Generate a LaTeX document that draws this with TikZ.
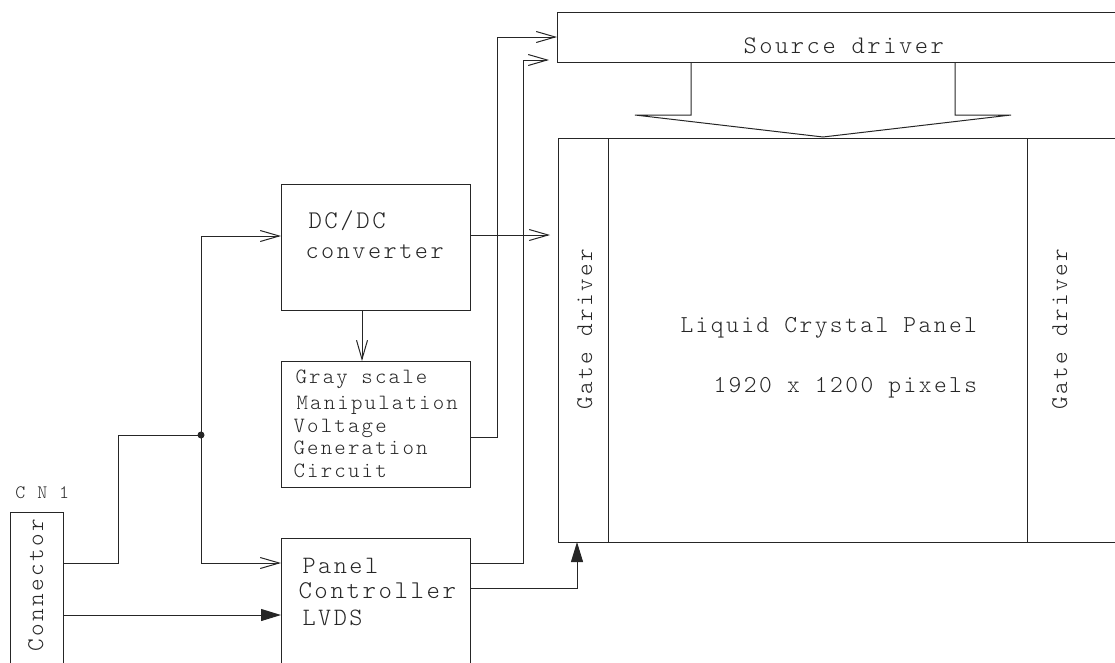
\documentclass[tikz,border=0pt]{standalone}
\usepackage{fontspec}
\newfontfamily\cmono{lmmonolt10-regular.otf}[LetterSpace=10]
\usetikzlibrary{arrows.meta}
\begin{document}
\begin{tikzpicture}[x=1pt,y=-1pt, line width=1pt, draw=black!85,
  box/.style={draw=black!85, inner sep=0pt, outer sep=0pt, anchor=north west},
  txt/.style={font=\cmono\fontsize{#1}{#1}\selectfont, inner sep=0pt, anchor=base west, text=black!85},
  vtxt/.style={txt=#1, rotate=90},
  openarr/.style={-{Straight Barb[length=19pt,width=11pt,line width=1pt]}},
  fillarr/.style={-{Triangle[length=20pt,width=12pt]}}]
\useasboundingbox (0,0) rectangle (1115,662);

% boxes
\node[box, minimum width=53pt, minimum height=220pt] (con) at (10,512) {};
\node[box, minimum width=189pt, minimum height=126pt] (dcdc) at (281,184) {};
\node[box, minimum width=189pt, minimum height=126pt] (gray) at (281,361) {};
\node[box, minimum width=189pt, minimum height=160pt] (pc) at (281,538) {};
\node[box, minimum width=600pt, minimum height=50pt] (src) at (557,12) {};
\node[box, minimum width=50pt, minimum height=404pt] (gl) at (558,138) {};
\node[box, minimum width=419pt, minimum height=404pt] (lcd) at (608,138) {};
\node[box, minimum width=120pt, minimum height=404pt] (gr) at (1027,138) {};

% texts
\node[txt=19] (cn1) at (15,498) {C N 1};
\node[vtxt=24] (contxt) at (43,652) {Connector};
\node[txt=25.5] (t1) at (308,228) {DC/DC};
\node[txt=25] (t2) at (305,258) {converter};
\node[txt=21.8] (g1) at (295,383) {Gray scale};
\node[txt=21.8] (g2) at (296,409) {Manipulation};
\node[txt=21.8] (g3) at (293,432) {Voltage};
\node[txt=21.8] (g4) at (293,454) {Generation};
\node[txt=21.8] (g5) at (293,477) {Circuit};
\node[txt=25] (p1) at (302,573) {Panel};
\node[txt=25.6] (p2) at (298,598) {Controller};
\node[txt=25] (p3) at (302,625) {LVDS};
\node[txt=25.3] (s1) at (743,53) {Source driver};
\node[txt=24.3] (l1) at (680,332) {Liquid Crystal Panel};
\node[txt=24.3] (l2) at (713,392) {1920 x 1200 pixels};
\node[vtxt=24] (gd1) at (592,410) {Gate driver};
\node[vtxt=24] (gd2) at (1067,410) {Gate driver};

% junction
\coordinate (j) at (201,435);
\fill[black!85] (j) circle (3.5pt);

% connectors
\draw (con.east |- 0,563) -| (118,435) -- (j);
\draw[openarr] (j) |- (dcdc.west |- 0,236);
\draw[openarr] (j) |- (pc.west |- 0,563);
\draw[fillarr] (con.east |- 0,615) -- (pc.west |- 0,615);
\coordinate (dcend) at ([xshift=-8pt]gl.west |- 0,235);
\draw[openarr] (dcdc.east |- 0,235) -- (dcend);
\draw[openarr] (dcdc.south -| 362,0) -- (gray.north -| 362,0);
\draw[openarr] (gray.east |- 0,437) -| (497,37) -- (src.west |- 0,37);
\coordinate (pcend) at ([xshift=-8pt]src.west |- 0,60);
\draw[openarr] (pc.east |- 0,563) -| (523,60) -- (pcend);
\draw[fillarr] (pc.east |- 0,588) -| (gl.south -| 577,0);

% wide arrow from source driver to panel
\draw (src.south -| 691,0) -- (691,115) -- (635,115) -- (823,137) -- (1011,115) -- (955,115) -- (src.south -| 955,0);
\end{tikzpicture}
\end{document}
